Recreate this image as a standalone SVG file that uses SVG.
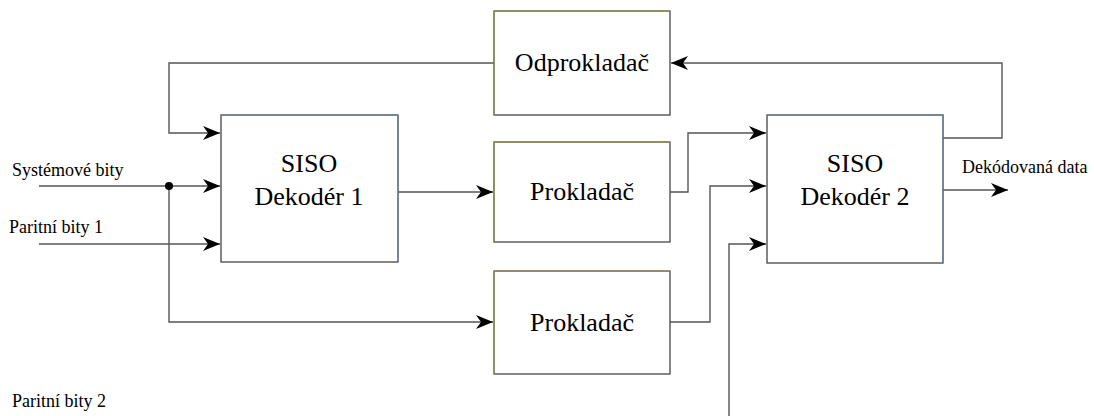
<svg xmlns="http://www.w3.org/2000/svg" width="1094" height="416" viewBox="0 0 1094 416">
<style>
.box{fill:#fff;stroke:#444;stroke-width:1.3}
.ol{stroke:#9c9c4a;stroke-width:1;fill:none}
.bl{stroke:#6a88a4;stroke-width:1;fill:none}
.c{fill:none;stroke:#555;stroke-width:1.4}
text{font-family:'Liberation Serif','Times New Roman',serif;fill:#000}
.t{font-size:26px;text-anchor:middle}
.s{font-size:18px}
</style>
<defs>
<marker id="a" markerWidth="18" markerHeight="14" refX="17" refY="7" orient="auto" markerUnits="userSpaceOnUse">
<path d="M0,0 L17,7 L0,14 L5,7 Z" fill="#000"/>
</marker>
</defs>
<rect width="1094" height="416" fill="#fff"/>
<g id="connectors">
<polyline class="c" points="943,138 1002,138 1002,63 671,63" marker-end="url(#a)"/>
<polyline class="c" points="494,63 169,63 169,133 220,133" marker-end="url(#a)"/>
<polyline class="c" points="39,186 220,186" marker-end="url(#a)"/>
<polyline class="c" points="169,186 169,322 493,322" marker-end="url(#a)"/>
<polyline class="c" points="39,244 220,244" marker-end="url(#a)"/>
<polyline class="c" points="398,192 493,192" marker-end="url(#a)"/>
<polyline class="c" points="670,192 688,192 688,133 766,133" marker-end="url(#a)"/>
<polyline class="c" points="670,322 710,322 710,186 766,186" marker-end="url(#a)"/>
<polyline class="c" points="729,416 729,244 766,244" marker-end="url(#a)"/>
<polyline class="c" points="943,190 1008,190" marker-end="url(#a)"/>
<circle cx="169" cy="186" r="4" fill="#000"/>
</g>
<g id="odprokladac">
<rect class="box" x="494" y="11" width="176" height="104"/>
<polyline class="ol" points="494,115 494,11 670,11"/>
<text class="t" x="582" y="71">Odprokladač</text>
</g>
<g id="siso1">
<rect class="box" x="221" y="115" width="177" height="147"/>
<polyline class="bl" points="221,115 398,115 398,262"/>
<text class="t" x="309" y="172">SISO</text>
<text class="t" x="309" y="205">Dekodér 1</text>
</g>
<g id="prokladac1">
<rect class="box" x="494" y="142" width="176" height="100"/>
<polyline class="ol" points="494,242 494,142 670,142"/>
<text class="t" x="582" y="200">Prokladač</text>
</g>
<g id="prokladac2">
<rect class="box" x="494" y="271" width="176" height="103"/>
<polyline class="ol" points="494,374 494,271 670,271"/>
<text class="t" x="582" y="331">Prokladač</text>
</g>
<g id="siso2">
<rect class="box" x="767" y="115" width="176" height="148"/>
<polyline class="bl" points="767,115 943,115 943,263"/>
<text class="t" x="855" y="172">SISO</text>
<text class="t" x="855" y="205">Dekodér 2</text>
</g>
<g id="labels">
<text class="s" x="12" y="176">Systémové bity</text>
<text class="s" x="9" y="233">Paritní bity 1</text>
<text class="s" x="12" y="407">Paritní bity 2</text>
<text class="s" x="962" y="173">Dekódovaná data</text>
</g>
</svg>
